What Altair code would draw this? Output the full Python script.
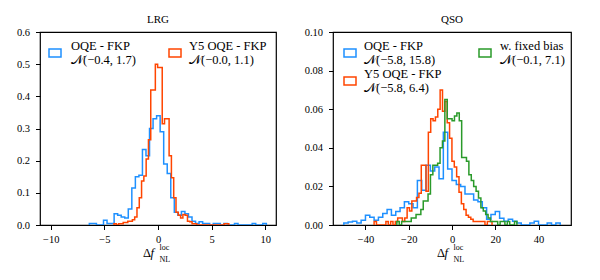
import altair as alt
import numpy as np
import pandas as pd

# ---------------- data (densities per bin, 50 bins between min and max) ----------------
lrg_oqe_range = (-6.4, 10.1)
lrg_oqe = [0.005, 0.005, 0, 0, 0.015, 0.005, 0.005, 0.035, 0.03, 0.025,
           0.022, 0.05, 0.115, 0.15, 0.155, 0.235, 0.215, 0.30, 0.33, 0.34,
           0.29, 0.19, 0.16, 0.085, 0.04, 0.03, 0.042, 0.035, 0.025, 0.012,
           0.005, 0.01, 0.005, 0.005, 0, 0.005, 0.005, 0, 0.005, 0,
           0, 0.005, 0, 0, 0, 0, 0.005, 0, 0, 0.005]

lrg_y5_range = (-4.1, 6.6)
lrg_y5 = [0.004, 0, 0.004, 0.004, 0.008, 0.008, 0.012, 0.012, 0.016, 0.025,
          0.054, 0.085, 0.137, 0.152, 0.205, 0.265, 0.42, 0.42, 0.50, 0.49,
          0.49, 0.315, 0.33, 0.33, 0.215, 0.147, 0.085, 0.04, 0.03, 0.022,
          0.033, 0.03, 0.012, 0.01, 0.004, 0.004, 0, 0, 0, 0,
          0, 0, 0, 0, 0, 0, 0, 0, 0.004, 0.004]

qso_oqe_range = (-50.0, 50.0)
qso_oqe = [0.001, 0.0015, 0.002, 0.001, 0.0025, 0.005, 0.004, 0.0025, 0.004, 0.006,
           0.008, 0.005, 0.007, 0.009, 0.012, 0.011, 0.009, 0.023, 0.018, 0.031,
           0.028, 0.03, 0.024, 0.048, 0.029, 0.023, 0.021, 0.02, 0.016, 0.016,
           0.013, 0.012, 0.009, 0.003, 0.0055, 0.007, 0.0035, 0.002, 0.003, 0.002,
           0.001, 0, 0, 0.001, 0.002, 0, 0, 0.001, 0, 0.001]

qso_y5_range = (-36.0, 18.5)
qso_y5 = [0.0018, 0, 0, 0, 0, 0.0018, 0, 0.0018, 0, 0.0018,
          0.0036, 0.0036, 0.0018, 0.0036, 0.009, 0.0072, 0.0125, 0.0125, 0.0143, 0.0165,
          0.031, 0.031, 0.0175, 0.048, 0.055, 0.054, 0.056, 0.06, 0.07, 0.059,
          0.064, 0.053, 0.045, 0.033, 0.03, 0.025, 0.017, 0.011, 0.008, 0.005,
          0.004, 0.003, 0.0018, 0.0018, 0.0018, 0.0018, 0.0018, 0, 0.0018, 0.0018]

qso_fixed_range = (-25.5, 30.0)
qso_fixed = [0.0018, 0, 0.0018, 0.0018, 0.0018, 0.0018, 0.0036, 0.0036, 0.0054, 0.0054,
             0.008, 0.0125, 0.0125, 0.016, 0.026, 0.031, 0.031, 0.032, 0.04, 0.0435,
             0.065, 0.055, 0.055, 0.054, 0.0565, 0.058, 0.054, 0.035, 0.035, 0.033,
             0.026, 0.023, 0.02, 0.0175, 0.014, 0.009, 0.0072, 0.0054, 0.0036, 0.0018,
             0.0018, 0.0018, 0, 0.0018, 0.0018, 0, 0.0018, 0, 0, 0.0018]

lrg_labels = ["OQE - FKP", "Y5 OQE - FKP"]
lrg_stats = ["\U0001D4A9(\u22120.4, 1.7)", "\U0001D4A9(\u22120.0, 1.1)"]
qso_labels = ["OQE - FKP", "Y5 OQE - FKP", "w. fixed bias"]
qso_stats = ["\U0001D4A9(\u22125.8, 15.8)", "\U0001D4A9(\u22125.8, 6.4)", "\U0001D4A9(\u22120.1, 7.1)"]

lrg_xticks = [-10, -5, 0, 5, 10]
lrg_yticks = [0.0, 0.1, 0.2, 0.3, 0.4, 0.5, 0.6]
qso_xticks = [-40, -20, 0, 20, 40]
qso_yticks = [0.0, 0.02, 0.04, 0.06, 0.08, 0.10]

BLUE = "#1E90FF"
ORANGE = "#FF4500"
GREEN = "#2a9a2a"
SERIF = "Liberation Serif"
W_L, W_R, H = 236, 238, 193


def step_table(vals, rng):
    n = len(vals)
    edges = np.linspace(rng[0], rng[1], n + 1)
    xs, ys = [edges[0]], [0.0]
    for k, v in enumerate(vals):
        xs += [edges[k], edges[k + 1]]
        ys += [v, v]
    xs.append(edges[-1])
    ys.append(0.0)
    return pd.DataFrame({"x": xs, "y": ys, "o": range(len(xs))})


one = pd.DataFrame({"a": [0]})


def txt(s, x, y, size=12.5, align="left", style="normal"):
    return alt.Chart(one).mark_text(
        text=s, align=align, baseline="middle", font=SERIF + ", DejaVu Serif, DejaVu Sans",
        fontSize=size, fontStyle=style, color="black"
    ).encode(x=alt.value(x), y=alt.value(y))


def box(color, x, y):
    return alt.Chart(one).mark_rect(fillOpacity=0, stroke=color, strokeWidth=1.5).encode(
        x=alt.value(x), x2=alt.value(x + 12), y=alt.value(y), y2=alt.value(y + 8))


def panel(series, xdom, xticks, ydom, yticks, yfmt, width, title, extra):
    layers = []
    for vals, rng, col in series:
        layers.append(
            alt.Chart(step_table(vals, rng)).mark_line(color=col, strokeWidth=1.5, clip=True, strokeJoin="miter").encode(
                x=alt.X("x:Q", scale=alt.Scale(domain=xdom, nice=False, zero=False),
                        axis=alt.Axis(values=xticks, format="d", title=None, labelPadding=5)),
                y=alt.Y("y:Q", scale=alt.Scale(domain=ydom, nice=False, zero=False),
                        axis=alt.Axis(values=yticks, format=yfmt, title=None, labelPadding=6)),
                order="o:Q",
            )
        )
    c = width / 2
    deco = [
        txt(title, c, -12, size=11, align="center"),
        txt("\u0394", c - 15, 221, size=12.5),
        txt("f", c - 7.5, 221, size=12.5, style="italic"),
        txt("loc", c + 1.5, 216, size=8),
        txt("NL", c + 1.5, 227.5, size=8),
    ]
    return alt.layer(*layers, *deco, *extra).properties(width=width, height=H)


left = panel(
    [(lrg_oqe, lrg_oqe_range, BLUE), (lrg_y5, lrg_y5_range, ORANGE)],
    [-11, 11], lrg_xticks, [0, 0.6], lrg_yticks, ".1f", W_L, "LRG",
    [box(BLUE, 9, 17), txt(lrg_labels[0], 31, 14), txt(lrg_stats[0], 31, 28),
     box(ORANGE, 129, 17), txt(lrg_labels[1], 149, 14), txt(lrg_stats[1], 149, 28)],
)
right = panel(
    [(qso_oqe, qso_oqe_range, BLUE), (qso_y5, qso_y5_range, ORANGE), (qso_fixed, qso_fixed_range, GREEN)],
    [-55, 55], qso_xticks, [0, 0.1], qso_yticks, ".2f", W_R, "QSO",
    [box(BLUE, 11, 17), txt(qso_labels[0], 31, 14), txt(qso_stats[0], 31, 28),
     box(ORANGE, 11, 45), txt(qso_labels[1], 31, 42), txt(qso_stats[1], 31, 56),
     box(GREEN, 146, 17), txt(qso_labels[2], 167, 14), txt(qso_stats[2], 167, 28)],
)

chart = alt.hconcat(left, right, spacing=26).properties(
    padding={"left": 7, "top": 5, "right": 5, "bottom": 5}
).configure_view(stroke="black", strokeWidth=1.2).configure_axis(
    labelFont=SERIF, labelFontSize=10.5, labelColor="black", tickColor="black",
    tickSize=4.5, tickWidth=1, domain=False, grid=False
)

chart.save("out.html", embed_options={"renderer": "svg", "actions": False})
